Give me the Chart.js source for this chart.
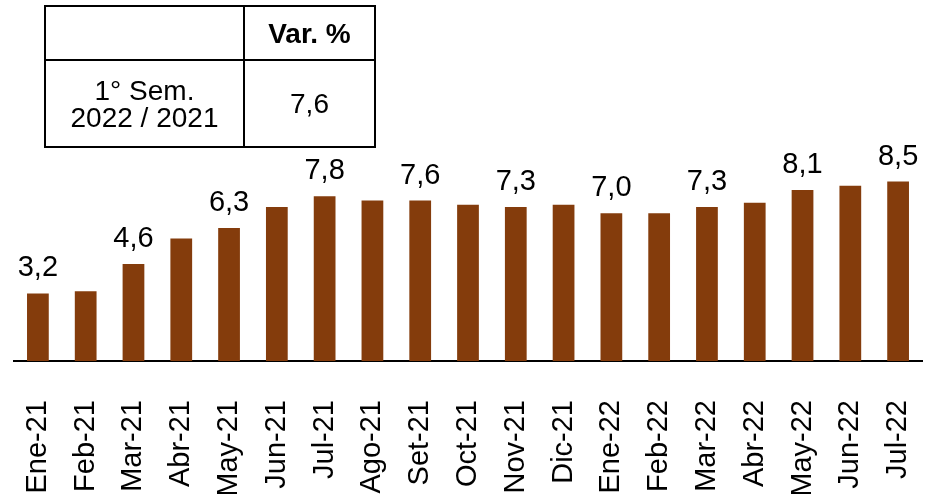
<!DOCTYPE html>
<html lang="es">
<head>
<meta charset="utf-8">
<script src="https://cdn.jsdelivr.net/npm/chart.js@4/dist/chart.umd.min.js"></script>
<style>
    html, body { margin: 0; padding: 0; background: #fff; }
    #contenedor { position: relative; width: 928px; height: 494px; }
    #grafico { position: absolute; left: 0; top: 0; }
    #tabla {
        position: absolute; left: 44px; top: 5px;
        border-collapse: collapse; table-layout: fixed;
        font-family: "Liberation Sans", Arial, sans-serif; font-size: 28px; color: #000;
    }
    #tabla td { border: 2px solid #000; text-align: center; vertical-align: middle; padding: 0; line-height: 27px; }
    #tabla .h { font-weight: bold; height: 52px; }
    #tabla .c { height: 85px; }
</style>
</head>
<body>
<div id="contenedor">
    <canvas id="grafico" width="928" height="494"></canvas>
    <table id="tabla">
        <colgroup><col style="width:199px"><col style="width:131px"></colgroup>
        <tr><td class="h"></td><td class="h">Var. %</td></tr>
        <tr><td class="c">1° Sem.<br>2022 / 2021</td><td class="c">7,6</td></tr>
    </table>
</div>
<script>
// ==========================
// DATOS
// ==========================
const meses = ["Ene-21", "Feb-21", "Mar-21", "Abr-21", "May-21", "Jun-21", "Jul-21", "Ago-21", "Set-21", "Oct-21",
    "Nov-21", "Dic-21", "Ene-22", "Feb-22", "Mar-22", "Abr-22", "May-22", "Jun-22", "Jul-22"];
const variacion = [3.2, 3.3, 4.6, 5.8, 6.3, 7.3, 7.8, 7.6, 7.6, 7.4,
    7.3, 7.4, 7.0, 7.0, 7.3, 7.5, 8.1, 8.3, 8.5];

const fuente = '"Liberation Sans", Arial, sans-serif';

// etiquetas sobre las barras (una sí, una no)
const etiquetasBarras = {
    id: "etiquetasBarras",
    afterDatasetsDraw(chart) {
        const ctx = chart.ctx;
        const meta = chart.getDatasetMeta(0);
        ctx.save();
        ctx.font = "29px " + fuente;
        ctx.fillStyle = "#000";
        ctx.textAlign = "center";
        ctx.textBaseline = "alphabetic";
        meta.data.forEach((barra, i) => {
            if (i % 2 !== 0) return;
            const texto = variacion[i].toFixed(1).replace(".", ",");
            ctx.fillText(texto, barra.x, barra.y - 17);
        });
        ctx.restore();
    }
};

const ctx = document.getElementById("grafico").getContext("2d");

new Chart(ctx, {
    type: "bar",
    data: {
        labels: meses,
        datasets: [{
            data: variacion,
            backgroundColor: "#843C0C",
            borderWidth: 0,
            categoryPercentage: 1,
            barPercentage: 0.455
        }]
    },
    options: {
        responsive: false,
        devicePixelRatio: 1,
        animation: false,
        layout: { padding: { left: 14, right: 6, top: 0, bottom: 0 } },
        plugins: {
            legend: { display: false },
            tooltip: { enabled: false }
        },
        scales: {
            x: {
                grid: { display: false, drawTicks: false },
                border: { display: true, color: "#000", width: 2 },
                ticks: {
                    color: "#000",
                    font: { family: fuente, size: 29 },
                    minRotation: 90,
                    maxRotation: 90,
                    autoSkip: false,
                    padding: 39
                },
                afterFit: (scale) => {
                    scale.height = 133;
                    scale.paddingLeft = 0;
                    scale.paddingRight = 0;
                }
            },
            y: {
                display: false,
                min: 0,
                max: 17.1
            }
        }
    },
    plugins: [etiquetasBarras]
});
</script>
</body>
</html>
